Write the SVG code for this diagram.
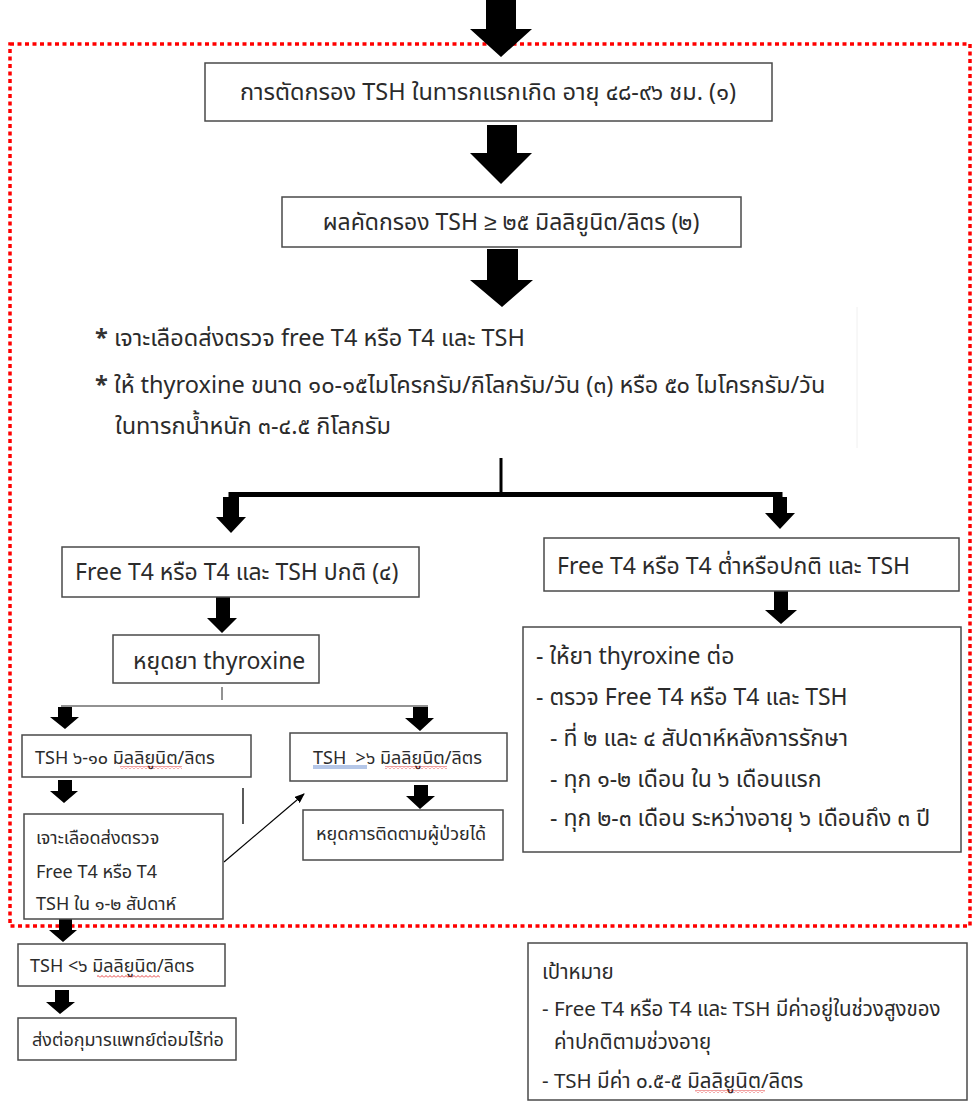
<svg xmlns="http://www.w3.org/2000/svg" width="973" height="1102" viewBox="0 0 973 1102">
<style>
  .bg{fill:#fff}
  .box{fill:#fff;stroke:#4a4a4a;stroke-width:1.5}
  .blk{fill:#000}
  .t{font-family:'Noto Sans Thai','Noto Sans','Liberation Sans',sans-serif;fill:#2b2b2b}
  .tL{font-size:23.5px}
  .t20{font-size:23px}
  .t18{font-size:20.5px}
  .t16{font-size:18px}
  .ln{stroke:#000;stroke-width:1.3;fill:none}
  .gl{stroke:#6e6e6e;stroke-width:1.5;fill:none}
  .frame{fill:none;stroke:#ff0000;stroke-width:3.5;stroke-dasharray:4 3.5}
</style>
<defs>
  <pattern id="wave" width="4" height="3" patternUnits="userSpaceOnUse">
    <path d="M0 2.5 L2 0.5 L4 2.5" fill="none" stroke="#e01010" stroke-width="0.8"/>
  </pattern>
  <marker id="ah" markerWidth="10" markerHeight="8" refX="9" refY="4" orient="auto" markerUnits="userSpaceOnUse">
    <path d="M0 0 L10 4 L0 8 Z" fill="#000"/>
  </marker>
</defs>
<rect class="bg" x="0" y="0" width="973" height="1102"/>

<rect class="frame" x="10" y="44" width="960" height="882"/>

<g id="connectors">
  <polygon class="blk" points="486,0 516,0 516,29 532,29 501,57 470,29 486,29"/>
  <polygon class="blk" points="487,125 517,125 517,153 532,153 501,184 470,153 487,153"/>
  <polygon class="blk" points="487,249 518,249 518,280 533,280 502,307 470,280 487,280"/>
  <line x1="501" y1="458" x2="501" y2="494" stroke="#000" stroke-width="3"/>
  <polyline points="231,517 231,494.5 780,494.5 780,513" fill="none" stroke="#000" stroke-width="5"/>
  <polygon class="blk" points="223,497 239,497 239,517 246,517 231,533 216,517 223,517"/>
  <polygon class="blk" points="773,497 787,497 787,513 795,513 780,529 765,513 773,513"/>
  <polygon class="blk" points="774,591 788,591 788,610 797,610 781,624 765,610 774,610"/>
  <polygon class="blk" points="216,597 230,597 230,618 237,618 222,633 207,618 216,618"/>
  <line class="gl" x1="222" y1="687" x2="222" y2="700"/>
  <line class="gl" x1="61" y1="706" x2="428" y2="706"/>
  <polygon class="blk" points="58,707 72,707 72,717 79,717 65,729 50,717 58,717"/>
  <polygon class="blk" points="413,707 428,707 428,718 434,718 420,731 405,718 413,718"/>
  <polygon class="blk" points="58,780 72,780 72,791 78,791 64,803 50,791 58,791"/>
  <polygon class="blk" points="414,785 428,785 428,796 435,796 420,809 406,796 414,796"/>
  <line class="ln" x1="243" y1="788" x2="243" y2="824"/>
  <line x1="224" y1="862" x2="304" y2="794" stroke="#000" stroke-width="1.2" marker-end="url(#ah)"/>
  <polygon class="blk" points="59,919 72,919 72,930 77,930 63,942 49,930 59,930"/>
  <polygon class="blk" points="55,990 69,990 69,1002 75,1002 60,1014 46,1002 55,1002"/>
  <line x1="857" y1="307" x2="857" y2="448" stroke="#f0f0f0" stroke-width="1"/>
</g>

<g id="n1">
  <rect class="box" x="205" y="63" width="567" height="58"/>
  <text class="t tL" x="488" y="100" text-anchor="middle">การตัดกรอง TSH ในทารกแรกเกิด อายุ ๔๘-๙๖ ชม. (๑)</text>
</g>
<g id="n2">
  <rect class="box" x="282" y="197" width="459" height="50"/>
  <text class="t t20" x="511" y="230" text-anchor="middle">ผลคัดกรอง TSH ≥ ๒๕ มิลลิยูนิต/ลิตร (๒)</text>
</g>
<g id="n3">
  <text class="t tL" x="95" y="346"><tspan font-weight="bold" fill="#333">*</tspan> เจาะเลือดส่งตรวจ free T4 หรือ T4 และ TSH</text>
  <text class="t tL" x="95" y="393"><tspan font-weight="bold" fill="#333">*</tspan> ให้ thyroxine ขนาด ๑๐-๑๕ไมโครกรัม/กิโลกรัม/วัน (๓) หรือ ๕๐ ไมโครกรัม/วัน</text>
  <text class="t tL" x="115" y="434">ในทารกน้ำหนัก ๓-๔.๕ กิโลกรัม</text>
</g>
<g id="n4">
  <rect class="box" x="62" y="547" width="357" height="50"/>
  <text class="t t20" x="75" y="580">Free T4 หรือ T4 และ TSH ปกติ (๔)</text>
</g>
<g id="n5">
  <rect class="box" x="544" y="538" width="415" height="53"/>
  <text class="t t20" x="557" y="574">Free T4 หรือ T4 ต่ำหรือปกติ และ TSH</text>
</g>
<g id="n6">
  <rect class="box" x="523" y="627" width="438" height="225"/>
  <text class="t t20" x="536" y="664">- ให้ยา thyroxine ต่อ</text>
  <text class="t t20" x="536" y="705">- ตรวจ Free T4 หรือ T4 และ TSH</text>
  <text class="t t20" x="550" y="746">- ที่ ๒ และ ๔ สัปดาห์หลังการรักษา</text>
  <text class="t t20" x="550" y="787">- ทุก ๑-๒ เดือน ใน ๖ เดือนแรก</text>
  <text class="t t20" x="550" y="826">- ทุก ๒-๓ เดือน ระหว่างอายุ ๖ เดือนถึง ๓ ปี</text>
</g>
<g id="n7">
  <rect class="box" x="113" y="635" width="206" height="48"/>
  <text class="t t20" x="133" y="669">หยุดยา thyroxine</text>
</g>
<g id="n8">
  <rect class="box" x="22" y="735" width="229" height="42"/>
  <text class="t t16" x="35" y="764">TSH ๖-๑๐ มิลลิยูนิต/ลิตร</text>
  <rect x="120" y="766" width="62" height="3" fill="url(#wave)"/>
</g>
<g id="n9">
  <rect class="box" x="290" y="733" width="217" height="48"/>
  <text class="t t16" x="313" y="764" xml:space="preserve">TSH  &gt;๖ มิลลิยูนิต/ลิตร</text>
  <line x1="313" y1="766" x2="367" y2="766" stroke="#4472c4" stroke-width="0.8"/>
  <line x1="313" y1="768" x2="367" y2="768" stroke="#4472c4" stroke-width="0.8"/>
  <rect x="385" y="766" width="62" height="3" fill="url(#wave)"/>
</g>
<g id="n10">
  <rect class="box" x="24" y="814" width="199" height="105"/>
  <text class="t t16" x="36" y="844">เจาะเลือดส่งตรวจ</text>
  <text class="t t16" x="36" y="878">Free T4 หรือ T4</text>
  <text class="t t16" x="36" y="910">TSH ใน ๑-๒ สัปดาห์</text>
</g>
<g id="n11">
  <rect class="box" x="303" y="810" width="200" height="50"/>
  <text class="t t16" x="316" y="840">หยุดการติดตามผู้ป่วยได้</text>
</g>
<g id="n12">
  <rect class="box" x="18" y="944" width="207" height="42"/>
  <text class="t t16" x="30" y="972">TSH &lt;๖ มิลลิยูนิต/ลิตร</text>
  <rect x="97" y="975" width="63" height="3" fill="url(#wave)"/>
</g>
<g id="n13">
  <rect class="box" x="18" y="1018" width="218" height="42"/>
  <text class="t t16" x="32" y="1046">ส่งต่อกุมารแพทย์ต่อมไร้ท่อ</text>
</g>
<g id="n14">
  <rect class="box" x="528" y="943" width="439" height="157"/>
  <text class="t t18" x="542" y="979">เป้าหมาย</text>
  <text class="t t18" x="542" y="1016">- Free T4 หรือ T4 และ TSH มีค่าอยู่ในช่วงสูงของ</text>
  <text class="t t18" x="554" y="1049">ค่าปกติตามช่วงอายุ</text>
  <text class="t t18" x="542" y="1088">- TSH มีค่า ๐.๕-๕ มิลลิยูนิต/ลิตร</text>
  <rect x="695" y="1090" width="70" height="3" fill="url(#wave)"/>
</g>
</svg>
